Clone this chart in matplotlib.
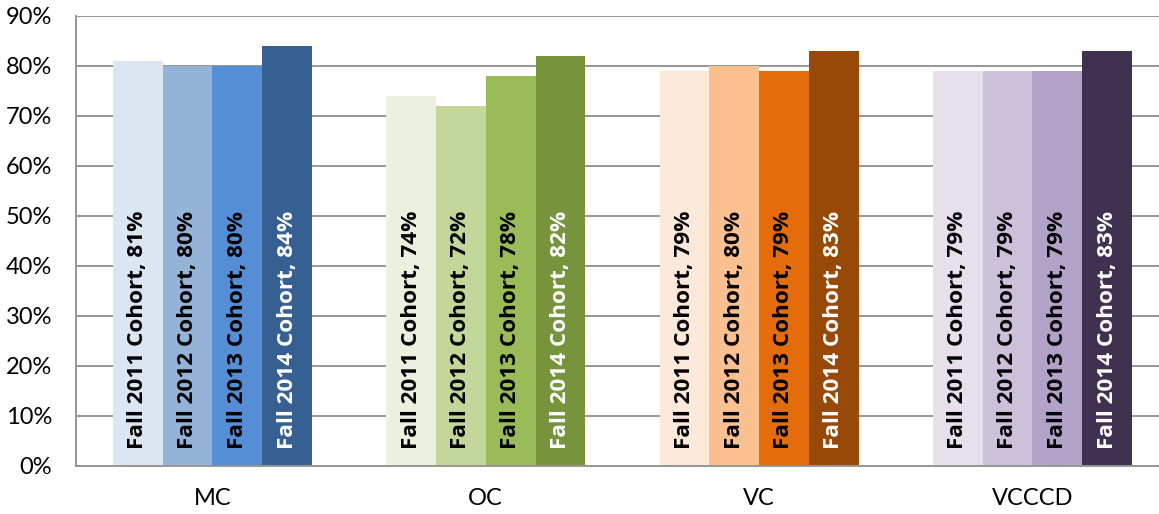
import numpy as np
import matplotlib
matplotlib.use("Agg")
import matplotlib.pyplot as plt

colleges = ["MC", "OC", "VC", "VCCCD"]
cohorts = ["Fall 2011 Cohort", "Fall 2012 Cohort", "Fall 2013 Cohort", "Fall 2014 Cohort"]
rates = {
    "MC": [81, 80, 80, 84],
    "OC": [74, 72, 78, 82],
    "VC": [79, 80, 79, 83],
    "VCCCD": [79, 79, 79, 83],
}
colors = {
    "MC": ["#DCE6F2", "#95B3D7", "#558ED5", "#376092"],
    "OC": ["#EBF1DE", "#C4D79B", "#9BBB59", "#77933C"],
    "VC": ["#FDE9D9", "#FAC090", "#E46C0A", "#984807"],
    "VCCCD": ["#E6E0EC", "#CCC1DA", "#B3A2C7", "#403151"],
}

plt.rcParams["font.family"] = ["Lato", "DejaVu Sans"]

fig = plt.figure(figsize=(11.59, 5.14), dpi=100)
ax = fig.add_axes([0.0654, 0.0934, 0.9433, 0.8755])

w = 0.182
x = np.arange(len(colleges))
for i, c in enumerate(colleges):
    for j, coh in enumerate(cohorts):
        xp = x[i] + (j - 1.5) * w
        v = rates[c][j]
        ax.bar(xp, v, w, color=colors[c][j], zorder=2)
        ax.text(xp, 3.3, f"{coh}, {v}%", rotation=90, ha="center", va="bottom",
                fontsize=16.2, fontweight="bold", family=["Open Sans", "DejaVu Sans"],
                color="white" if j == 3 else "black", zorder=3)

ax.set_xlim(-0.5, 3.5)
ax.set_ylim(0, 90)
ax.set_yticks(range(0, 91, 10))
ax.set_yticklabels([f"{t}%" for t in range(0, 91, 10)], fontsize=17)
ax.set_xticks(x)
ax.set_xticklabels(colleges, fontsize=17)
ax.tick_params(axis="x", length=0, pad=16)
ax.tick_params(axis="y", length=0, pad=17)
ax.grid(axis="y", color="#969696", lw=1.4, zorder=0)
for s in ("top", "right"):
    ax.spines[s].set_visible(False)
for s in ("left", "bottom"):
    ax.spines[s].set_color("#969696")
    ax.spines[s].set_linewidth(1.4)

fig.savefig("out.png", dpi=100)
